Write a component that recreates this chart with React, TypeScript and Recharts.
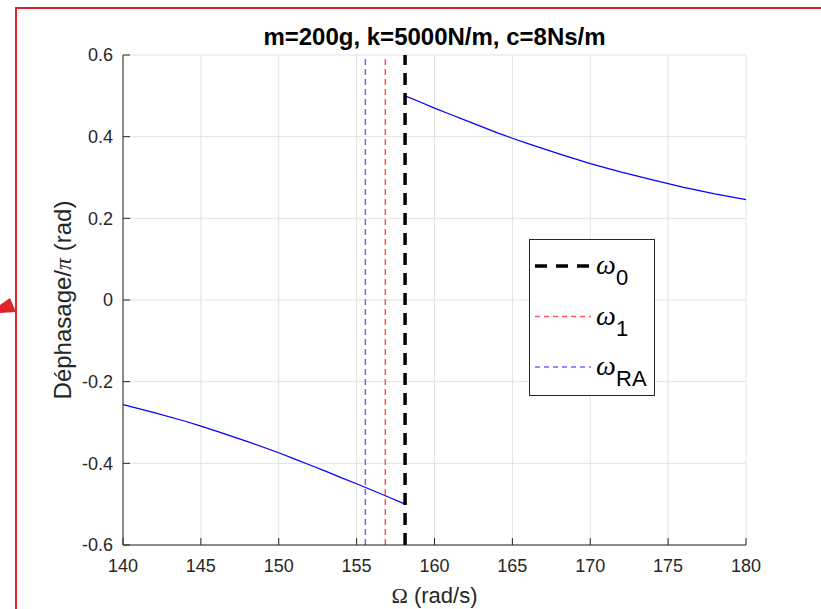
import React from "react";
import {
  LineChart,
  Line,
  XAxis,
  YAxis,
  CartesianGrid,
  ReferenceLine,
} from "recharts";

// Ω (rad/s) et déphasage/π, une branche de chaque côté de ω0
const omegaLeft = [140, 142, 144, 145, 146, 148, 150, 151, 152, 153, 154, 155, 156, 157, 158, 158.1];
const phaseLeft = [-0.256, -0.276, -0.297, -0.309, -0.321, -0.347, -0.374, -0.389, -0.404, -0.419, -0.435, -0.45, -0.466, -0.482, -0.498, -0.5];
const omegaRight = [158.12, 159, 160, 161, 162, 164, 165, 166, 168, 170, 172, 174, 175, 176, 178, 180];
const phaseRight = [0.5, 0.486, 0.47, 0.455, 0.44, 0.41, 0.396, 0.383, 0.358, 0.334, 0.313, 0.294, 0.285, 0.276, 0.26, 0.246];

// pulsations remarquables (rad/s)
const omega0 = 158.11;
const omega1 = 156.84;
const omegaRA = 155.56;

const xTicks = [140, 145, 150, 155, 160, 165, 170, 175, 180];
const yTicks = [-0.6, -0.4, -0.2, 0, 0.2, 0.4, 0.6];
const legendSubs = ["0", "1", "RA"];

const leftData = omegaLeft.map((o, i) => ({ omega: o, phase: phaseLeft[i] }));
const rightData = omegaRight.map((o, i) => ({ omega: o, phase: phaseRight[i] }));

const FONT = "'Liberation Sans', Arial, sans-serif";
const AX = "#262626";
const RED = "#ff5858";
const BLUE = "#6a6aff";

const legendStyles = [
  { stroke: "#000000", width: 3.5, dash: "12 9" },
  { stroke: RED, width: 1.5, dash: "5 4" },
  { stroke: BLUE, width: 1.5, dash: "5 4" },
];

const YLabel = (props: any) => {
  const vb = props.viewBox || { x: 0, y: 55, height: 490 };
  const cx = vb.x + 71;
  const cy = vb.y + vb.height / 2;
  return (
    <text
      x={cx}
      y={cy}
      transform={`rotate(-90 ${cx} ${cy})`}
      textAnchor="middle"
      fill={AX}
      fontSize={24}
      fontFamily={FONT}
    >
      Déphasage/<tspan fontStyle="italic" fontFamily="'Liberation Serif', serif">π</tspan> (rad)
    </text>
  );
};

const XLabel = (props: any) => {
  const vb = props.viewBox || { x: 123, y: 545, width: 623 };
  return (
    <text
      x={vb.x + vb.width / 2}
      y={603}
      textAnchor="middle"
      fill={AX}
      fontSize={22}
      fontFamily={FONT}
    >
      <tspan fontFamily="'Liberation Serif', serif">Ω</tspan> (rad/s)
    </text>
  );
};

function LegendBox() {
  return (
    <svg
      width={127}
      height={158}
      style={{ position: "absolute", left: 529, top: 239 }}
    >
      <rect x={0.5} y={0.5} width={125} height={156} fill="#fff" stroke={AX} strokeWidth={1} />
      {legendSubs.map((sub, i) => {
        const y = 27 + i * 50.5;
        const s = legendStyles[i];
        return (
          <g key={sub}>
            <line x1={6} x2={62} y1={y} y2={y} stroke={s.stroke} strokeWidth={s.width} strokeDasharray={s.dash} />
            <text x={67} y={y + 8} fontSize={28} fill="#000" fontFamily="'Liberation Serif', serif" fontStyle="italic">
              ω
            </text>
            <text x={87} y={y + 19} fontSize={22} fill="#000" fontFamily={FONT}>
              {sub}
            </text>
          </g>
        );
      })}
    </svg>
  );
}

export default function App() {
  return (
    <div
      style={{
        position: "absolute",
        left: 0,
        top: 0,
        width: 821,
        height: 609,
        background: "#fff",
        overflow: "hidden",
        fontFamily: FONT,
      }}
    >
      <div
        style={{
          position: "absolute",
          left: 15,
          top: 7,
          width: 900,
          height: 700,
          borderTop: "2px solid #e1242c",
          borderLeft: "2px solid #e1242c",
        }}
      />
      <svg width={20} height={30} style={{ position: "absolute", left: 0, top: 290 }}>
        <polygon points="0,15 10,8 16,22 0,23" fill="#e1242c" />
      </svg>
      <div
        style={{
          position: "absolute",
          left: 123,
          width: 623,
          top: 24,
          textAlign: "center",
          fontSize: 24,
          fontWeight: "bold",
          lineHeight: "26px",
          color: "#000",
        }}
      >
        m=200g, k=5000N/m, c=8Ns/m
      </div>
      <LineChart
        width={821}
        height={609}
        margin={{ top: 55, right: 75, bottom: 0, left: 0 }}
        style={{ position: "absolute", left: 0, top: 0 }}
      >
        <CartesianGrid stroke="#e3e3e3" />
        <XAxis
          type="number"
          dataKey="omega"
          domain={[140, 180]}
          ticks={xTicks}
          allowDataOverflow
          height={64}
          axisLine={{ stroke: AX }}
          tickLine={{ stroke: AX }}
          tickSize={-7}
          tickMargin={21}
          tick={{ fill: AX, fontSize: 18, fontFamily: FONT }}
          label={<XLabel />}
        />
        <YAxis
          type="number"
          domain={[-0.6, 0.6]}
          ticks={yTicks}
          allowDataOverflow
          width={123}
          axisLine={{ stroke: AX }}
          tickLine={{ stroke: AX }}
          tickSize={-7}
          tickMargin={17}
          tick={{ fill: AX, fontSize: 18, fontFamily: FONT }}
          tickFormatter={(v: number) => String(v)}
          label={<YLabel />}
        />
        <Line
          data={leftData}
          dataKey="phase"
          type="linear"
          stroke="#0000ff"
          strokeWidth={1.2}
          dot={false}
          isAnimationActive={false}
        />
        <Line
          data={rightData}
          dataKey="phase"
          type="linear"
          stroke="#0000ff"
          strokeWidth={1.2}
          dot={false}
          isAnimationActive={false}
        />
        <ReferenceLine x={omegaRA} stroke={BLUE} strokeWidth={1.5} strokeDasharray="6 4" />
        <ReferenceLine x={omega1} stroke={RED} strokeWidth={1.5} strokeDasharray="6 4" />
        <ReferenceLine x={omega0} stroke="#000" strokeWidth={3.5} strokeDasharray="12 8" />
      </LineChart>
      <LegendBox />
    </div>
  );
}
